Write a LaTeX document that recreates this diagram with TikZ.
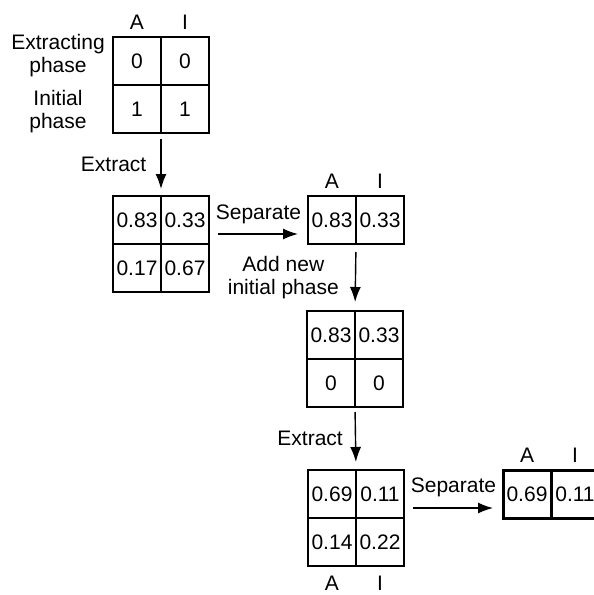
\documentclass[tikz,border=0pt]{standalone}
\usepackage{fontspec}
\setsansfont{Liberation Sans}
\usetikzlibrary{positioning,arrows.meta}

\begin{document}
\begin{tikzpicture}[
  x=1pt, y=-1pt,
  node distance=0pt,
  every node/.style={font=\sffamily\fontsize{21}{23}\selectfont, inner sep=0pt},
  cell/.style={draw, line width=1.5pt, minimum size=48pt, outer sep=0pt},
  boldcell/.style={cell, line width=3pt},
  arr/.style={-{Latex[length=15pt,width=11pt]}, line width=1.4pt}
]
\useasboundingbox (0,0) rectangle (594,595);
\clip (0,0) rectangle (594,595);

% Start table
\node[cell] (s0a) at (137,61) {0};
\node[cell, right=of s0a] (s0b) {0};
\node[cell, below=of s0a] (s0c) {1};
\node[cell, right=of s0c] (s0d) {1};
\node[above=7pt of s0a] (h0a) {A};
\node[above=7pt of s0b] (h0b) {I};
\node[align=center] (lext) at (58,56) {Extracting\\phase};
\node[align=center] (lini) at (58,112) {Initial\\phase};

% After first extraction
\node[cell] (s1a) at (137,220) {0.83};
\node[cell, right=of s1a] (s1b) {0.33};
\node[cell, below=of s1a] (s1c) {0.17};
\node[cell, right=of s1c] (s1d) {0.67};

% Separated extract
\node[cell] (s2a) at (332,220) {0.83};
\node[cell, right=of s2a] (s2b) {0.33};
\node[above=7pt of s2a] (h2a) {A};
\node[above=7pt of s2b] (h2b) {I};

% New initial phase added
\node[cell] (s3a) at (331,335) {0.83};
\node[cell, right=of s3a] (s3b) {0.33};
\node[cell, below=of s3a] (s3c) {0};
\node[cell, right=of s3c] (s3d) {0};

% After second extraction
\node[cell] (s4a) at (332,494) {0.69};
\node[cell, right=of s4a] (s4b) {0.11};
\node[cell, below=of s4a] (s4c) {0.14};
\node[cell, right=of s4c] (s4d) {0.22};
\node[below=10pt of s4c] (h4a) {A};
\node[below=10pt of s4d] (h4b) {I};

% Final extract
\node[boldcell] (s5a) at (527,494) {0.69};
\node[boldcell, right=of s5a] (s5b) {0.11};
\node[above=7pt of s5a] (h5a) {A};
\node[above=7pt of s5b] (h5b) {I};

% Arrows
\draw[arr, shorten <=6pt, shorten >=7pt] (s0c.south east) -- node[left=14pt] {Extract} (s1a.north east);
\draw[arr, shorten <=9pt, shorten >=10pt] ([yshift=-14pt]s1b.east) -- node[above=9pt] {Separate} ([yshift=-14pt]s2a.west);
\draw[arr, shorten <=8pt, shorten >=9pt] (s2a.south east) -- node[left=16pt, align=center] {Add new\\initial phase} (s3a.north east);
\draw[arr, shorten <=5pt, shorten >=8pt] (s3c.south east) -- node[left=12pt] {Extract} (s4a.north east);
\draw[arr, shorten <=9pt, shorten >=10pt] ([yshift=-14pt]s4b.east) -- node[above=10pt] {Separate} ([yshift=-14pt]s5a.west);
\end{tikzpicture}
\end{document}
